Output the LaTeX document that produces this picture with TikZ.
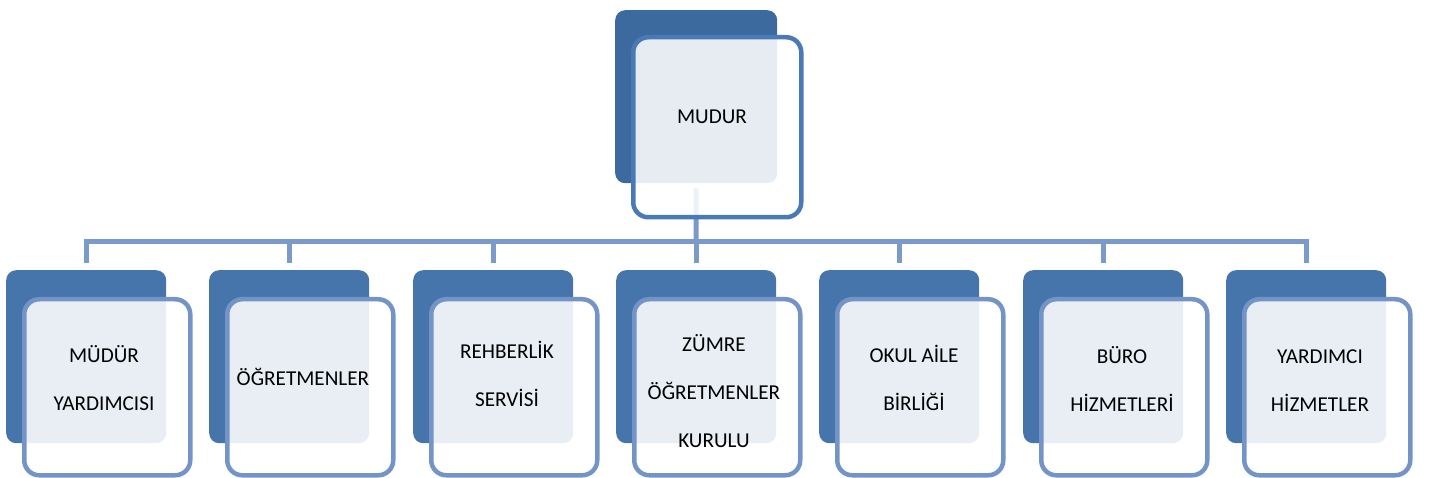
\documentclass[tikz,border=0pt]{standalone}
\usepackage{fontspec}
\setmainfont{Carlito}
\usetikzlibrary{backgrounds}
\definecolor{topdark}{HTML}{3D6A9E}
\definecolor{botdark}{HTML}{4675AB}
\definecolor{topline}{HTML}{4A7AB5}
\definecolor{botline}{HTML}{7494C8}
\definecolor{connc}{HTML}{7A9ACB}
\tikzset{
  darkbox/.style={anchor=north west, inner sep=0pt, rounded corners=10pt, draw=none,
    minimum width=160pt, minimum height=173pt, fill=botdark},
  outbox/.style={anchor=north west, inner sep=0pt, rounded corners=15pt, line width=4.5pt,
    draw=botline, fill=white, fill opacity=0.88, minimum width=166pt, minimum height=176pt},
  lbl/.style={anchor=base, inner sep=0pt, text=black,
    font=\fontsize{21.2}{48}\selectfont},
  conn/.style={draw=connc, line width=5pt, line join=miter, line cap=butt}
}
\newcommand{\lines}[1]{\begin{tabular}[t]{@{}c@{}}#1\end{tabular}}
\begin{document}
\begin{tikzpicture}[x=1pt,y=-1pt]
\useasboundingbox (0,0) rectangle (1432,478);
% top box
\node[darkbox, fill=topdark, minimum width=162pt] (d0) at (615,10) {};
\node[outbox, draw=topline, minimum width=168pt, minimum height=180pt] (o0) at (631,35) {};
\node[lbl] (t0) at (712,124) {MUDUR};
% bottom boxes
\foreach \i/\L in {1/6,2/209,3/413,4/616,5/819,6/1023,7/1226}{
  \node[darkbox] (d\i) at (\L,270) {};
  \node[outbox] (o\i) at (\L+16,297) {};
}
\node[lbl] (t1) at (104,362) {\lines{MÜDÜR\\YARDIMCISI}};
\node[lbl] (t2) at (303,385) {\lines{ÖĞRETMENLER}};
\node[lbl] (t3) at (507,358) {\lines{REHBERLİK\\SERVİSİ}};
\node[lbl] (t4) at (714,351) {\lines{ZÜMRE\\ÖĞRETMENLER\\KURULU}};
\node[lbl] (t5) at (914,362) {\lines{OKUL AİLE\\BİRLİĞİ}};
\node[lbl] (t6) at (1122,363) {\lines{BÜRO\\HİZMETLERİ}};
\node[lbl] (t7) at (1320,363) {\lines{YARDIMCI\\HİZMETLER}};
\coordinate (bus) at (696,242);
\begin{scope}[on background layer]
  \draw[conn, shorten <=5pt] (d0.south) -- (bus);
  \foreach \i in {1,...,7}{
    \draw[conn, shorten >=7pt] (bus) -| (d\i.north);
  }
\end{scope}
\end{tikzpicture}
\end{document}
